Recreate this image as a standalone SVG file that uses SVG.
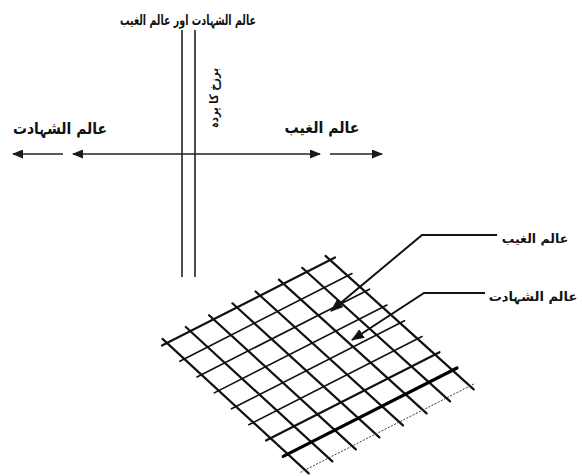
<svg xmlns="http://www.w3.org/2000/svg" width="582" height="476" viewBox="0 0 582 476">
<defs>
<marker id="ah" markerUnits="userSpaceOnUse" markerWidth="11" markerHeight="9" refX="10" refY="4.5" orient="auto-start-reverse">
<path d="M0,0 L11,4.5 L0,9 z" fill="#1a1a1a"/>
</marker>
<marker id="ah2" markerUnits="userSpaceOnUse" markerWidth="13" markerHeight="10" refX="12" refY="5" orient="auto">
<path d="M0,0 L13,5 L0,10 z" fill="#111"/>
</marker>
</defs>
<style>
.t{font-family:"DejaVu Sans",sans-serif;font-weight:bold;fill:#111;text-anchor:middle}
.ax{stroke:#222;stroke-width:1.6;fill:none}
.gb{stroke:#111;stroke-width:2.2;fill:none;stroke-linecap:round}
.ga{stroke:#111;stroke-width:1.6;fill:none;stroke-linecap:round}
.gh{stroke:#000;stroke-width:3.2;fill:none;stroke-linecap:round}
.gd{stroke:#333;stroke-width:1;fill:none;stroke-dasharray:2 1.5}
.ld{stroke:#111;stroke-width:2;fill:none}
</style>
<rect width="582" height="476" fill="#fff"/>
<g id="connectors">
<line class="ax" x1="182" y1="30" x2="182" y2="277"/>
<line class="ax" x1="195" y1="30" x2="195" y2="277"/>
<line class="ax" x1="73" y1="154" x2="320" y2="154" marker-start="url(#ah)" marker-end="url(#ah)"/>
<line class="ax" x1="63" y1="154" x2="13" y2="154" marker-end="url(#ah)"/>
<line class="ax" x1="330" y1="154" x2="382" y2="154" marker-end="url(#ah)"/>
</g>
<g id="grid">
<line class="gb" x1="162.5" y1="338.9" x2="308.7" y2="473.4"/>
<line class="gb" x1="185.8" y1="327" x2="332.3" y2="461.4"/>
<line class="gb" x1="209.1" y1="315.2" x2="355.8" y2="449.4"/>
<line class="gb" x1="232.4" y1="303.3" x2="379.4" y2="437.4"/>
<line class="gb" x1="255.6" y1="291.5" x2="403" y2="425.4"/>
<line class="gb" x1="278.9" y1="279.6" x2="426.6" y2="413.4"/>
<line class="gb" x1="302.2" y1="267.8" x2="450.1" y2="401.4"/>
<line class="gb" x1="325.5" y1="255.9" x2="473.7" y2="389.4"/>
<line class="gb" x1="162" y1="345.5" x2="335" y2="257.5"/>
<line class="ga" x1="179.8" y1="361.2" x2="352" y2="273.5"/>
<line class="ga" x1="197" y1="377" x2="369.5" y2="289.2"/>
<line class="ga" x1="214.3" y1="392.9" x2="387" y2="305"/>
<line class="ga" x1="231.5" y1="408.8" x2="404.5" y2="320.7"/>
<line class="ga" x1="248.8" y1="424.7" x2="422" y2="336.5"/>
<line class="gb" x1="266" y1="440.5" x2="439.5" y2="352.2"/>
<line class="gh" x1="283.2" y1="456.4" x2="457" y2="368"/>
<line class="gd" x1="300.5" y1="472.3" x2="474.5" y2="383.7"/>
</g>
<g id="leaders">
<polyline class="ld" points="497,235 422,235 331,311" marker-end="url(#ah2)"/>
<polyline class="ld" points="485,293 424,293 352,340" marker-end="url(#ah2)"/>
</g>
<g id="label-top"><text class="t" x="188" y="25" font-size="14" textLength="136" lengthAdjust="spacingAndGlyphs">عالم الشہادت اور عالم الغیب</text></g>
<g id="label-barzakh"><text class="t" transform="translate(218,98) rotate(-90)" font-size="12" textLength="60" lengthAdjust="spacingAndGlyphs">برزخ کا پردہ</text></g>
<g id="label-left"><text class="t" x="60" y="134" font-size="16" textLength="94" lengthAdjust="spacingAndGlyphs">عالم الشہادت</text></g>
<g id="label-right"><text class="t" x="322" y="133" font-size="16" textLength="75" lengthAdjust="spacingAndGlyphs">عالم الغیب</text></g>
<g id="label-ghaib"><text class="t" x="535" y="243" font-size="12.5">عالم الغیب</text></g>
<g id="label-shahadat"><text class="t" x="533" y="301" font-size="13">عالم الشہادت</text></g>
</svg>
